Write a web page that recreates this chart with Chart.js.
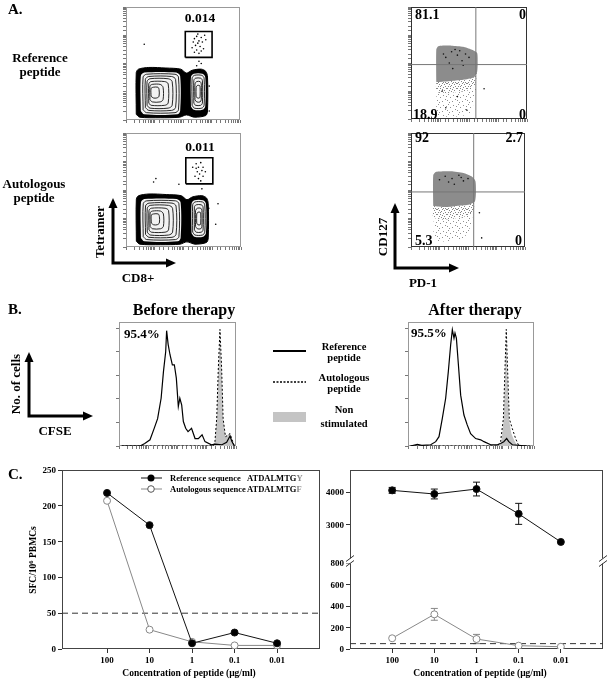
<!DOCTYPE html>
<html>
<head>
<meta charset="utf-8">
<script src="https://cdn.jsdelivr.net/npm/chart.js@4.4.0/dist/chart.umd.min.js"></script>
<style>
  body { margin: 0; background: #fff; }
  #fig { position: relative; width: 608px; height: 680px; overflow: hidden;
    font-family: "Liberation Serif", "Times New Roman", serif; font-weight: bold; color: #000; }
  .t { position: absolute; white-space: nowrap; line-height: 1; z-index: 2; }
  .t sup { font-size: 0.7em; line-height: 0; vertical-align: 0.45em; }
  #ov { position: absolute; left: 0; top: 0; pointer-events: none; z-index: 1; }
</style>
</head>
<body>
<div id="fig"></div>
<script>
// ---- Panel A: tetramer vs CD8 (plot units 0-100 on both axes) ----
const tetBlob = [[9,5],[9,42],[11,45],[20,46.5],[35,46],[48,45],[53,41.5],[58,44],[66,45],[70,43],[71.5,38],[71.5,8],[70,4],[60,2.5],[53,4.5],[47,2.5],[30,2],[12,2.5],[9,5]];
const tetLeftCore = [[13,8],[13,39],[16,42],[44,42],[47.5,39],[47.5,8],[45,5],[16,5],[13,8]];
const tetLeftRings = [
  [[15,9],[15,38],[18,40.5],[43,40.5],[46,38],[46,9],[43,6.5],[18,6.5],[15,9]],
  [[17,11],[17,36],[20,38.5],[40,38.5],[43.5,36],[43.5,11],[40,8.5],[20,8.5],[17,11]],
  [[18.5,13],[18.5,34],[21,36.5],[37,36.5],[40.5,34],[40.5,13],[37,10.5],[21,10.5],[18.5,13]],
  [[20,15],[20,32],[22,34],[34,34],[37,32],[37,15],[34,13],[22,13],[20,15]],
  [[21,18],[21,30],[23,31.5],[30,31.5],[32.5,29],[32.5,18],[30,16],[23,16],[21,18]],
  [[22,21],[22,28],[24,29],[28,29],[29,27],[29,21],[27,19.5],[24,19.5],[22,21]]
];
const tetRightCore = [[57,12],[57,38],[59.5,41],[67,41],[69.5,38],[69.5,12],[67,9],[59.5,9],[57,12]];
const tetRightRings = [
  [[58,13],[58,37],[60,39.5],[66.5,39.5],[68.5,37],[68.5,13],[66.5,10.5],[60,10.5],[58,13]],
  [[59.5,15],[59.5,35],[61,37],[65.5,37],[67,35],[67,15],[65.5,13],[61,13],[59.5,15]],
  [[60.5,18],[60.5,32],[62,34],[65,34],[66,32],[66,18],[65,16],[62,16],[60.5,18]],
  [[61.5,21],[61.5,29],[62.5,30.5],[64.5,30.5],[65,29],[65,21],[64.5,19.5],[62.5,19.5],[61.5,21]]
];
const tetGate = [[52,55.4],[75.5,55.4],[75.5,78.3],[52,78.3],[52,55.4]];
const tetDotsRef = [[60,72],[62,74],[64,70],[66,73],[63,68],[61,66],[65,65],[67,69],[69,75],[58,64],[62,62],[66,61],[64,59],[60,60],[68,63],[63,76],[70,71],[59,69],
  [16,67],[64,52],[66,50],[73,30],[62,48],[73,8]];
const tetDotsAuto = [[61,73],[63,70],[65,74],[67,70],[62,66],[64,64],[66,67],[60,62],[63,60],[67,62],[65,58],[61,69],[69,66],[58,70],
  [26,60],[24,57],[46,55],[72,34],[78,20],[80,38],[66,51]];
const tetFreq = ['0.014', '0.011'];

// ---- Panel A: CD127 vs PD-1 ----
const pdQuadX = [55.9, 55];
const pdQuadY = [48.6, 48.3];
const pdQuadRef = ['81.1', '0', '18.9', '0'];
const pdQuadAuto = ['92', '2.7', '5.3', '0'];
const pdDenseRef = [[21.8,33],[21.8,62],[23.5,65],[35,65.5],[45,64.5],[52,62],[57,59],[57.5,50],[57,42],[54,37],[45,35],[35,34],[21.8,33]];
const pdMidRef = [[21.8,33.5],[21.8,24],[30,23],[40,24],[50,26],[55,30],[57,42],[54,37],[45,35],[35,34],[21.8,33.5]];
const pdSparseRef = [[22,25],[22,5],[25,2.5],[35,2],[45,3],[52,6],[54,15],[56,28],[50,26],[40,24],[30,23],[22,25]];
const pdDotsRef = [[30,55],[35,60],[40,57],[44,52],[47,58],[33,50],[38,62],[50,55],[42,61],[28,58],[45,48],[36,45],[30,10],[40,20],[48,8],[27,25],[63,27]];
const pdDenseAuto = [[19.5,36],[19.5,63],[22,66],[35,66.5],[46,65],[53,62],[56.5,58],[57,48],[56,40],[50,37],[40,36],[30,35],[19.5,36]];
const pdMidAuto = [[19.5,36],[19.5,26],[28,24],[38,25],[48,27],[54,31],[56,40],[50,37],[40,36],[30,35],[19.5,36]];
const pdSparseAuto = [[20,27],[20,8],[24,5],[34,5],[44,7],[50,12],[53,22],[54,31],[48,27],[38,25],[28,24],[20,27]];
const pdDotsAuto = [[30,62],[36,60],[42,63],[46,58],[50,60],[38,55],[33,57],[44,61],[25,59],[60,30],[62,8]];

// ---- Panel B: CFSE histograms (plot units 0-100) ----
const befRef = [[2.3,0],[18,0],[22,2],[26.5,5],[30,14],[33,22],[36,38.5],[38,60],[39.9,76],[40.7,93],[42,82],[43.6,73.6],[45.6,65.5],[47.3,65.5],[49,54.7],[50.7,31.8],[52,38.5],[53.6,33],[55,19.7],[57,14.3],[59,11.6],[62,14.3],[65,6],[67.8,6],[71,9],[73.5,3.5],[79,1],[82,1.5],[88,1],[92,3],[94.9,8],[96.3,4],[98.6,0]];
const befAuto = [[2.3,0],[80.6,0],[82,3.5],[83.5,22],[84.9,63],[86.3,94],[87.7,63],[89,22],[91,7.5],[93.4,9],[94.9,10],[96.3,6],[98.6,0]];
const befNon = [[80.6,0],[82,3.5],[83.5,22],[84.9,62],[86.3,93],[87.7,62],[89,22],[91,7.5],[93.4,9],[94.9,10],[96.3,6],[98.6,0]];
const aftRef = [[2,0],[7.4,1.3],[11,0.5],[18,1],[22,3.5],[24.6,7.5],[27.2,22],[29.9,38.5],[32,60],[33.9,82],[35.2,93.8],[36.5,87],[37.3,91],[38.4,87],[40,65.5],[41.8,41],[44.4,25],[47,17],[49.7,10],[53.7,6],[57.7,5],[60.3,3.5],[65.6,1],[71,1],[73.5,2],[76,3.5],[78.3,6],[80,3.5],[82.8,1],[94.7,0]];
const aftAuto = [[2,0],[71,0],[73.5,3.5],[75.7,22],[77,63],[78,94],[79,63],[80.4,22],[82.8,14],[85.4,6],[88,0],[98,0]];
const aftNon = [[72,0],[74,3],[75.9,20],[77.1,58],[78,88],[78.9,58],[80.1,22],[82,10],[84.5,4],[87,0]];
const histTicks = [0, 19, 38, 57, 76, 95];
const histPct = ['95.4%', '95.5%'];

// ---- Panel C: ELISpot ----
const concLabels = ['100', '10', '1', '0.1', '0.01'];
const sfcRef = [218, 173, 8, 23, 8];
const sfcAuto = [207, 27, 10, 5, 5];
const sfcTicks = [0, 50, 100, 150, 200, 250];
const sfcCutoff = 50;
const sfc2Ref = [4050, 3940, 4090, 3335, 2480];
const sfc2RefErr = [90, 150, 210, 320, 0];
const sfc2Auto = [100, 323, 93, 31, 21];
const sfc2AutoErr = [0, 55, 43, 0, 0];
const sfc2TicksHigh = [3000, 4000];
const sfc2TicksLow = [0, 200, 400, 600, 800];

const serif = '"Liberation Serif", "Times New Roman", serif';
const fig = document.getElementById('fig');

function txt(html, x, y, size, opts = {}) {
  const d = document.createElement('div');
  d.className = 't';
  d.innerHTML = html;
  d.style.left = x + 'px';
  d.style.top = y + 'px';
  d.style.fontSize = size + 'px';
  const ax = opts.align === 'left' ? '0' : opts.align === 'right' ? '-100%' : '-50%';
  d.style.transform = `translate(${ax}, -50%)` + (opts.rot ? ` rotate(${opts.rot}deg)` : '');
  fig.appendChild(d);
}

function makeCanvas(left, top, w, h) {
  const c = document.createElement('canvas');
  c.width = w; c.height = h;
  c.style.cssText = `position:absolute;left:${left}px;top:${top}px;width:${w}px;height:${h}px`;
  fig.appendChild(c);
  return c.getContext('2d');
}

// speckle texture for the sparse part of the dot plots
function dotPattern(px, color) {
  const pc = document.createElement('canvas');
  pc.width = 10; pc.height = 10;
  const g = pc.getContext('2d');
  g.fillStyle = color;
  px.forEach(([x, y]) => g.fillRect(x, y, 1, 1));
  return g.createPattern(pc, 'repeat');
}
const sparseFill = dotPattern([[1,1],[6,2],[3,4],[8,6],[0,7],[5,8],[9,3],[2,9]], '#8f8f8f');
const midFill = dotPattern([[0,0],[2,1],[5,0],[7,1],[9,0],[1,3],[4,2],[6,4],[8,3],[3,5],[0,5],[5,6],[9,5],[2,7],[7,7],[4,8],[1,9],[6,9],[8,9],[3,3]], '#868686');

const pts = arr => arr.map(([x, y]) => ({ x, y }));
function shape(arr, o) {
  return Object.assign({ data: pts(arr), showLine: true, pointRadius: 0, borderWidth: 0,
    borderColor: 'rgba(0,0,0,0)', fill: false, tension: 0, xAxisID: 'x', yAxisID: 'y' }, o);
}
function dots(arr, color, r) {
  return { data: pts(arr), showLine: false, pointRadius: r, backgroundColor: color,
    borderWidth: 0, xAxisID: 'x', yAxisID: 'y' };
}

const framePlugin = {
  id: 'frame',
  beforeDatasetsDraw(chart, args, o) {
    const { left, top, right, bottom } = chart.chartArea;
    const c = chart.ctx;
    c.save();
    c.strokeStyle = o.color || '#333';
    c.lineWidth = 1;
    c.strokeRect(Math.round(left) + 0.5, Math.round(top) + 0.5,
      Math.round(right - left) - 1, Math.round(bottom - top) - 1);
    c.restore();
  }
};

const errorBarPlugin = {
  id: 'errorBars',
  beforeDatasetsDraw(chart) {
    const c = chart.ctx;
    chart.data.datasets.forEach((ds, i) => {
      if (!ds.errors) return;
      const meta = chart.getDatasetMeta(i);
      c.save();
      c.strokeStyle = ds.borderColor;
      c.lineWidth = 1;
      ds.errors.forEach((e, j) => {
        if (!e) return;
        const x = meta.data[j].x;
        const y1 = meta.yScale.getPixelForValue(ds.data[j].y + e);
        const y2 = meta.yScale.getPixelForValue(ds.data[j].y - e);
        c.beginPath();
        c.moveTo(x, y1); c.lineTo(x, y2);
        c.moveTo(x - 3.5, y1); c.lineTo(x + 3.5, y1);
        c.moveTo(x - 3.5, y2); c.lineTo(x + 3.5, y2);
        c.stroke();
      });
      c.restore();
    });
  }
};

const breakPlugin = {
  id: 'axisBreak',
  afterDraw(chart, args, o) {
    const s = chart.scales[o.scale];
    if (!s) return;
    const y = s.top;
    const c = chart.ctx;
    c.save();
    [chart.chartArea.left, chart.chartArea.right].forEach(x => {
      c.fillStyle = '#fff';
      c.fillRect(x - 5, y - 2.5, 10, 5);
      c.strokeStyle = '#333';
      c.lineWidth = 1;
      c.beginPath();
      c.moveTo(x - 4, y + 0.5); c.lineTo(x + 4, y - 5.5);
      c.moveTo(x - 4, y + 5.5); c.lineTo(x + 4, y - 0.5);
      c.stroke();
    });
    c.restore();
  }
};

// boxed plot with plot units 0-100 and tick marks only
function boxChart(box, datasets, frameColor, yTicks) {
  const [bx, by, bw, bh] = box;
  const ctx = makeCanvas(bx - 3, by - 1, bw + 4, bh + 4);
  const tickGrid = { drawOnChartArea: false, tickLength: 3, color: '#777', lineWidth: 1 };
  const yt = yTicks
    ? { type: 'linear', min: 0, max: 100, afterBuildTicks: s => { s.ticks = yTicks.map(v => ({ value: v })); } }
    : { type: 'logarithmic', min: 1, max: 10000 };
  Object.assign(yt, { position: 'left', ticks: { display: false }, grid: tickGrid,
    border: { display: false }, afterFit: s => { s.width = 3; } });
  return new Chart(ctx, {
    type: 'scatter',
    data: { datasets: datasets.slice().reverse() },
    options: {
      responsive: false, animation: false, devicePixelRatio: 1,
      layout: { padding: { top: 1, right: 1, left: 0, bottom: 0 } },
      plugins: { legend: { display: false }, tooltip: { enabled: false }, frame: { color: frameColor } },
      scales: {
        x: { type: 'linear', min: 0, max: 100, display: false },
        y: { type: 'linear', min: 0, max: 100, display: false },
        xt: { type: 'logarithmic', position: 'bottom', min: 1, max: 10000, ticks: { display: false },
          grid: tickGrid, border: { display: false }, afterFit: s => { s.height = 3; } },
        yt
      }
    },
    plugins: [framePlugin]
  });
}

// ---------- Panel A ----------
function tetramerSets(dotArr) {
  const sets = [shape(tetBlob, { fill: 'shape', backgroundColor: '#000', borderColor: '#000', borderWidth: 1, tension: 0.3 }),
    shape(tetLeftCore, { fill: 'shape', backgroundColor: '#f2f2f2', tension: 0.3 }),
    shape(tetRightCore, { fill: 'shape', backgroundColor: '#f2f2f2', tension: 0.3 })];
  tetLeftRings.concat(tetRightRings).forEach(r =>
    sets.push(shape(r, { borderColor: '#111', borderWidth: 0.9, tension: 0.3 })));
  sets.push(shape(tetGate, { borderColor: '#000', borderWidth: 1.6 }));
  sets.push(dots(dotArr, '#000', 0.8));
  return sets;
}
boxChart([125, 4, 118, 117], tetramerSets(tetDotsRef), '#999');
boxChart([125, 130, 119, 118], tetramerSets(tetDotsAuto), '#999');

function pdSets(dense, mid, sparse, dotArr, qx, qy) {
  return [
    shape(sparse, { fill: 'shape', backgroundColor: sparseFill, tension: 0.2 }),
    shape(mid, { fill: 'shape', backgroundColor: midFill, tension: 0.2 }),
    shape(dense, { fill: 'shape', backgroundColor: '#8c8c8c', tension: 0.2 }),
    dots(dotArr, '#111', 0.8),
    shape([[qx, 0], [qx, 100]], { borderColor: '#777', borderWidth: 1 }),
    shape([[0, qy], [100, qy]], { borderColor: '#777', borderWidth: 1 })
  ];
}
boxChart([410, 4, 120, 116], pdSets(pdDenseRef, pdMidRef, pdSparseRef, pdDotsRef, pdQuadX[0], pdQuadY[0]), '#333');
boxChart([410, 130, 118, 118], pdSets(pdDenseAuto, pdMidAuto, pdSparseAuto, pdDotsAuto, pdQuadX[1], pdQuadY[1]), '#333');

// ---------- Panel B ----------
function histSets(non, auto, ref) {
  return [
    shape(non, { fill: 'origin', backgroundColor: '#c4c4c4' }),
    shape(auto, { borderColor: '#000', borderWidth: 1, borderDash: [2, 2] }),
    shape(ref, { borderColor: '#000', borderWidth: 1.2 })
  ];
}
boxChart([119, 322, 117, 124], histSets(befNon, befAuto, befRef), '#999', histTicks);
boxChart([408, 322, 126, 124], histSets(aftNon, aftAuto, aftRef), '#999', histTicks);

// ---------- Panel C ----------
const cFont = { family: serif, size: 9, weight: 'bold' };
function concAxis(min, max) {
  return { type: 'linear', min, max,
    afterBuildTicks: s => { s.ticks = concLabels.map((_, i) => ({ value: i })); },
    ticks: { callback: v => concLabels[v], font: cFont, color: '#000', padding: 2, maxRotation: 0, autoSkip: false },
    grid: { drawOnChartArea: false, tickLength: 4, color: '#333' },
    border: { display: false },
    afterFit: s => { s.height = 21; } };
}
// value axis: tick marks from the library, labels written next to them below
function sfcAxis(min, max, shown, w, extra) {
  return Object.assign({ type: 'linear', position: 'left', min, max,
    afterBuildTicks: s => { s.ticks = shown.map(v => ({ value: v })); },
    ticks: { display: false },
    grid: { drawOnChartArea: false, tickLength: 4, color: '#333' },
    border: { display: false },
    afterFit: s => { s.width = w; } }, extra || {});
}
function series(vals, errs, line, fillColor, yAxisID) {
  return { data: vals.map((y, i) => ({ x: i, y })), errors: errs, showLine: true,
    borderColor: line, borderWidth: 1, pointRadius: 3.5, pointBackgroundColor: fillColor,
    pointBorderColor: line, pointBorderWidth: 1, tension: 0, xAxisID: 'x', yAxisID };
}
function cutoff(xmin, xmax, yAxisID) {
  return { data: [{ x: xmin, y: sfcCutoff }, { x: xmax, y: sfcCutoff }], showLine: true,
    borderColor: '#333', borderWidth: 1, borderDash: [6, 4], pointRadius: 0, xAxisID: 'x', yAxisID };
}
function yLabels(chart, id, values, cx, cy) {
  const s = chart.scales[id];
  values.forEach(v => txt(String(v), cx + s.right - 6, cy + s.getPixelForValue(v), 9, { align: 'right' }));
}
const baseOpts = { responsive: false, animation: false, devicePixelRatio: 1 };

const sfcChart = new Chart(makeCanvas(0, 460, 330, 220), {
  type: 'scatter',
  data: { datasets: [series(sfcRef, null, '#111', '#000', 'y'), series(sfcAuto, null, '#888', '#fff', 'y'), cutoff(-1.06, 5.01, 'y')] },
  options: Object.assign({}, baseOpts, {
    layout: { padding: { left: 32, top: 10, right: 10, bottom: 10 } },
    plugins: { legend: { display: false }, tooltip: { enabled: false }, frame: { color: '#444' } },
    scales: { x: concAxis(-1.06, 5.01), y: sfcAxis(0, 250, sfcTicks, 30) }
  }),
  plugins: [framePlugin]
});
yLabels(sfcChart, 'y', sfcTicks, 0, 460);

const sfc2Chart = new Chart(makeCanvas(325, 460, 283, 220), {
  type: 'scatter',
  data: { datasets: [series(sfc2Ref, sfc2RefErr, '#111', '#000', 'yHigh'),
    series(sfc2Auto, sfc2AutoErr, '#888', '#fff', 'yLow'), cutoff(-1, 5, 'yLow')] },
  options: Object.assign({}, baseOpts, {
    layout: { padding: { left: 0, top: 10, right: 3, bottom: 10 } },
    plugins: { legend: { display: false }, tooltip: { enabled: false }, frame: { color: '#444' }, axisBreak: { scale: 'yLow' } },
    scales: {
      x: concAxis(-1, 5),
      yLow: sfcAxis(0, 820, sfc2TicksLow, 25, { stack: 'sfc', stackWeight: 88 }),
      yHigh: sfcAxis(1900, 4670, sfc2TicksHigh, 25, { stack: 'sfc', stackWeight: 91 })
    }
  }),
  plugins: [framePlugin, errorBarPlugin, breakPlugin]
});
yLabels(sfc2Chart, 'yLow', sfc2TicksLow, 325, 460);
yLabels(sfc2Chart, 'yHigh', sfc2TicksHigh, 325, 460);

// ---------- text ----------
txt('A.', 8, 9, 15, { align: 'left' });
txt('B.', 8, 309, 15, { align: 'left' });
txt('C.', 8, 474, 15, { align: 'left' });

txt('Reference', 40, 57, 13); txt('peptide', 40, 71, 13);
txt('Autologous', 34, 183, 13); txt('peptide', 34, 197, 13);
txt(tetFreq[0], 200, 18, 13.5); txt(tetFreq[1], 200, 147, 13.5);
txt('Tetramer', 99, 232, 13, { rot: -90 });
txt('CD8+', 138, 277, 13);

txt(pdQuadRef[0], 415, 15, 14, { align: 'left' }); txt(pdQuadRef[1], 526, 15, 14, { align: 'right' });
txt(pdQuadRef[2], 413, 115, 14, { align: 'left' }); txt(pdQuadRef[3], 526, 115, 14, { align: 'right' });
txt(pdQuadAuto[0], 415, 138, 14, { align: 'left' }); txt(pdQuadAuto[1], 523, 138, 14, { align: 'right' });
txt(pdQuadAuto[2], 415, 241, 14, { align: 'left' }); txt(pdQuadAuto[3], 522, 241, 14, { align: 'right' });
txt('CD127', 382, 237, 13, { rot: -90 });
txt('PD-1', 423, 282, 13);

txt('Before therapy', 184, 310, 16); txt('After therapy', 475, 310, 16);
txt(histPct[0], 124, 333, 13, { align: 'left' }); txt(histPct[1], 411, 332, 13, { align: 'left' });
txt('No. of cells', 15, 384, 13, { rot: -90 });
txt('CFSE', 55, 430, 13);
txt('Reference', 344, 347, 10.5); txt('peptide', 344, 358, 10.5);
txt('Autologous', 344, 378, 10.5); txt('peptide', 344, 389, 10.5);
txt('Non', 344, 410, 10.5); txt('stimulated', 344, 424, 10.5);

txt('Reference sequence', 170, 478, 8.5, { align: 'left' });
txt('Autologous sequence', 170, 489, 8.5, { align: 'left' });
txt('ATDALMTG<span style="color:#888">Y</span>', 247, 478, 8.5, { align: 'left' });
txt('ATDALMTG<span style="color:#888">F</span>', 247, 489, 8.5, { align: 'left' });
txt('SFC/10<sup>6</sup> PBMCs', 34, 560, 9.5, { rot: -90 });
txt('Concentration of peptide (µg/ml)', 189, 674, 9.5);
txt('Concentration of peptide (µg/ml)', 480, 674, 9.5);

// ---------- arrows and legend keys ----------
const svgNS = 'http://www.w3.org/2000/svg';
const ov = document.createElementNS(svgNS, 'svg');
ov.setAttribute('id', 'ov'); ov.setAttribute('width', 608); ov.setAttribute('height', 680);
fig.appendChild(ov);
function el(name, attrs) {
  const e = document.createElementNS(svgNS, name);
  for (const k in attrs) e.setAttribute(k, attrs[k]);
  ov.appendChild(e);
}
function axisArrows(x, y, up, right) {
  el('polyline', { points: `${x},${up + 7} ${x},${y} ${right - 7},${y}`, fill: 'none', stroke: '#000', 'stroke-width': 3 });
  el('polygon', { points: `${x},${up - 1} ${x - 4.5},${up + 9} ${x + 4.5},${up + 9}`, fill: '#000' });
  el('polygon', { points: `${right + 1},${y} ${right - 9},${y - 4.5} ${right - 9},${y + 4.5}`, fill: '#000' });
}
axisArrows(113, 263, 199, 175);
axisArrows(395, 268, 204, 458);
axisArrows(29, 416, 353, 92);

el('line', { x1: 273, y1: 351, x2: 306, y2: 351, stroke: '#000', 'stroke-width': 2 });
el('line', { x1: 273, y1: 382, x2: 306, y2: 382, stroke: '#000', 'stroke-width': 1.5, 'stroke-dasharray': '2,1.5' });
el('rect', { x: 273, y: 412, width: 33, height: 10, fill: '#c4c4c4' });

el('line', { x1: 141, y1: 478, x2: 162, y2: 478, stroke: '#111', 'stroke-width': 1 });
el('circle', { cx: 151, cy: 478, r: 3.5, fill: '#000' });
el('line', { x1: 141, y1: 489, x2: 162, y2: 489, stroke: '#888', 'stroke-width': 1 });
el('circle', { cx: 151, cy: 489, r: 3.3, fill: '#fff', stroke: '#555', 'stroke-width': 1 });
</script>
</body>
</html>
